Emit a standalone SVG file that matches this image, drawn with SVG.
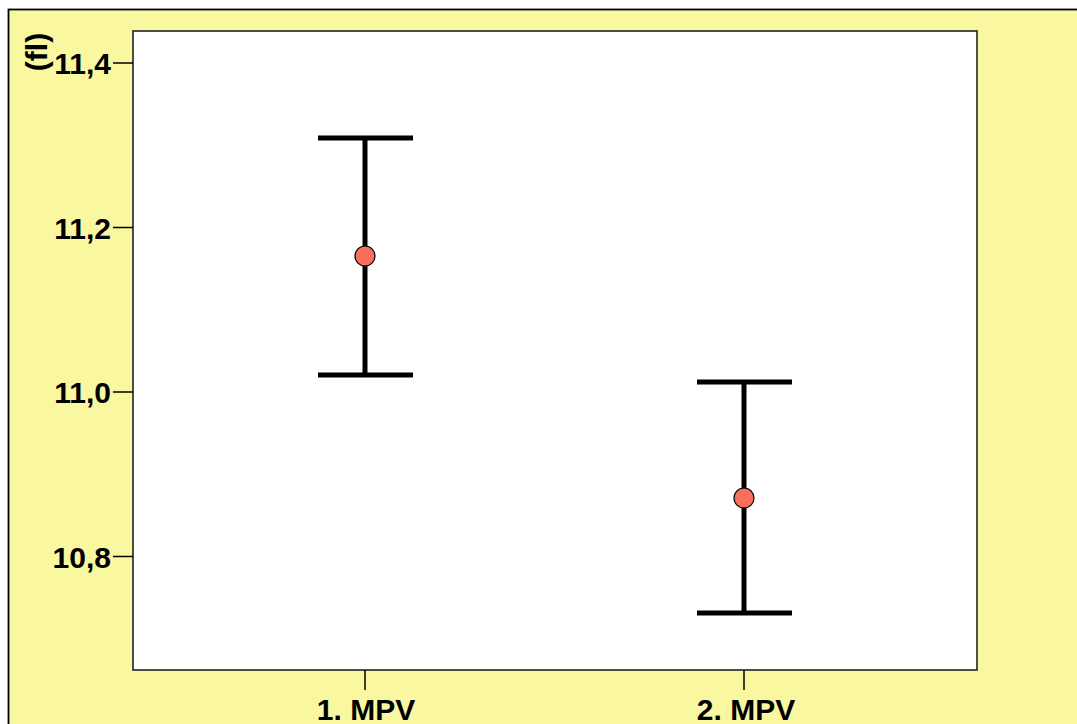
<svg xmlns="http://www.w3.org/2000/svg" width="1077" height="724" viewBox="0 0 1077 724">
<style>
text{font-family:"Liberation Sans",Arial,sans-serif;font-weight:bold;font-size:30px;fill:#000}
.ytick{text-anchor:end}
.xtick{text-anchor:middle}
.tick{stroke:#000;stroke-width:1.5}
.bar{stroke:#000;stroke-width:5;fill:none}
.mean{fill:#FA6E5E;stroke:#000;stroke-width:1.2}
</style>
<rect x="0" y="0" width="1077" height="724" fill="#fff"/>
<rect x="8.5" y="9.5" width="1080" height="730" fill="#F9F7A0" stroke="#000" stroke-width="1.8"/>
<g id="plot">
<rect x="133" y="31" width="844" height="639" fill="#fff" stroke="#222" stroke-width="1.6"/>
</g>
<g id="yaxis">
<line class="tick" x1="113" y1="63" x2="133" y2="63"/>
<line class="tick" x1="113" y1="227.5" x2="133" y2="227.5"/>
<line class="tick" x1="113" y1="392" x2="133" y2="392"/>
<line class="tick" x1="113" y1="556.5" x2="133" y2="556.5"/>
<text class="ytick" x="111" y="74">11,4</text>
<text class="ytick" x="111" y="238.5">11,2</text>
<text class="ytick" x="111" y="403">11,0</text>
<text class="ytick" x="111" y="567.5">10,8</text>
<text transform="translate(47,52) rotate(-90)" text-anchor="middle">(fl)</text>
</g>
<g id="xaxis">
<line class="tick" x1="365" y1="670" x2="365" y2="690"/>
<line class="tick" x1="744" y1="670" x2="744" y2="690"/>
<text class="xtick" x="366" y="720">1. MPV</text>
<text class="xtick" x="746" y="720">2. MPV</text>
</g>
<g id="connectors">
<path class="bar" d="M365 138V375M318 138H413M318 375H413"/>
<path class="bar" d="M744 382V613M697 382H792M697 613H792"/>
</g>
<g id="mean1"><circle class="mean" cx="365" cy="256" r="10"/></g>
<g id="mean2"><circle class="mean" cx="744" cy="498" r="10"/></g>
</svg>
